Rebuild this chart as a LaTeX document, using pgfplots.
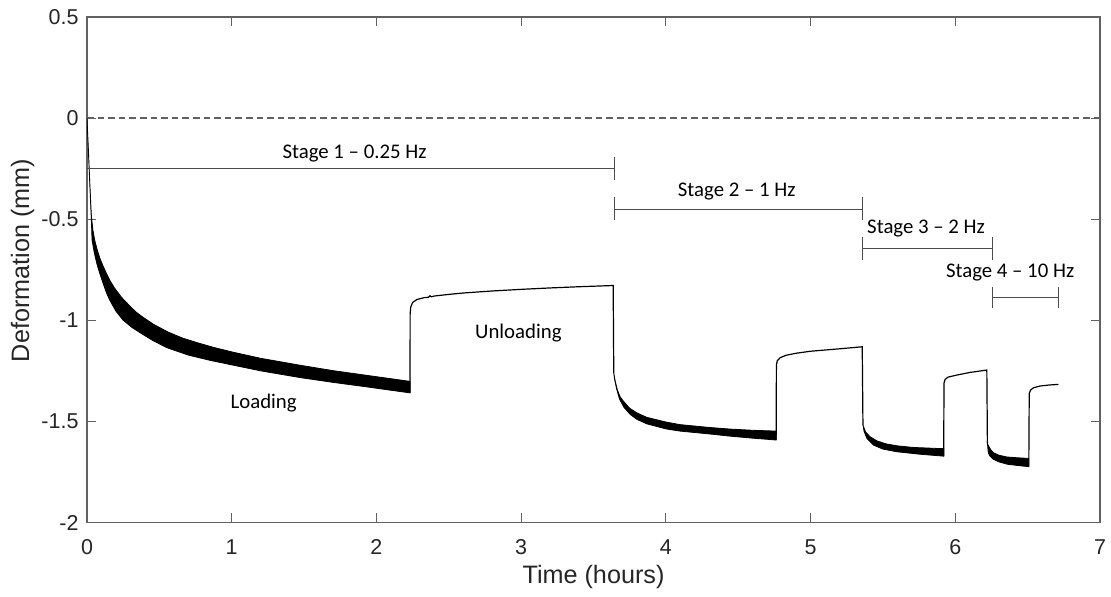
\documentclass[border=0pt]{standalone}
\usepackage{pgfplots}
\pgfplotsset{compat=1.18}
\usepackage{fontspec}
\setmainfont{Liberation Sans}
\newfontfamily\calib{Carlito}
\definecolor{axgray}{gray}{0.38}
\definecolor{txtgray}{gray}{0.15}
\definecolor{brk}{gray}{0.3}
\begin{document}
\begin{tikzpicture}
\path[use as bounding box] (0,0) rectangle (555.5pt,298.5pt);
\begin{axis}[
  at={(43.5pt,37.25pt)}, anchor=south west,
  scale only axis, width=506.5pt, height=252.75pt,
  xmin=0, xmax=7, ymin=-2, ymax=0.5,
  xtick={0,1,2,3,4,5,6,7}, ytick={-2,-1.5,-1,-0.5,0,0.5},
  xticklabels={0,1,2,3,4,5,6,7}, yticklabels={-2,-1.5,-1,-0.5,0,0.5},
  tick align=inside, tick pos=both, major tick length=4.5pt,
  axis line style={axgray, line width=0.55pt},
  every tick/.style={axgray, line width=0.55pt},
  tick label style={font=\fontsize{10.75}{12}\selectfont, text=txtgray},
  xticklabel style={anchor=center, yshift=-12.25pt},
  yticklabel style={anchor=east, xshift=-0.7pt},
  xlabel={Time (hours)}, ylabel={Deformation (mm)},
  label style={font=\fontsize{12.6}{14}\selectfont, text=txtgray},
  xlabel style={at={(axis description cs:0.5,-0.1072)}, anchor=center},
  ylabel style={at={(axis description cs:-0.0635,0.518)}, anchor=center},
]
% zero reference line
\addplot[axgray, line width=0.7pt, dash pattern=on 3.3pt off 2pt] coordinates {(0,0) (7,0)};

% Stage 1 loading band (upper edge, then lower edge back)
\addplot[fill=black, draw=black, line width=0.4pt] coordinates {
(0,0) (0.01,-0.16) (0.02,-0.33) (0.03,-0.48) (0.04,-0.55) (0.053,-0.603) (0.07,-0.65) (0.09,-0.695) (0.11,-0.73) (0.134,-0.768) (0.16,-0.805) (0.19,-0.84) (0.237,-0.885) (0.29,-0.925) (0.34,-0.96) (0.387,-0.985) (0.46,-1.02) (0.56,-1.058) (0.66,-1.088) (0.767,-1.112) (0.88,-1.135) (1.011,-1.158) (1.2,-1.188) (1.47,-1.222) (1.7,-1.249) (1.93,-1.272) (2.232,-1.302)
(2.232,-1.359) (1.93,-1.329) (1.7,-1.307) (1.47,-1.283) (1.2,-1.25) (1.011,-1.222) (0.85,-1.198) (0.7,-1.172) (0.55,-1.135) (0.45,-1.098) (0.375,-1.065) (0.31,-1.035) (0.249,-0.999) (0.2,-0.955) (0.157,-0.90) (0.135,-0.865) (0.11,-0.815) (0.088,-0.768) (0.07,-0.725) (0.05,-0.665) (0.035,-0.603) (0.03,-0.50) (0.02,-0.34) (0.01,-0.17) (0,0)
} -- cycle;
% Unloading 1
\addplot[black, line width=0.6pt] coordinates {
(2.232,-1.359) (2.233,-0.97) (2.237,-0.935) (2.25,-0.912) (2.28,-0.897) (2.33,-0.888) (2.36,-0.886) (2.37,-0.879) (2.38,-0.884) (2.4,-0.880) (2.5,-0.872) (2.6,-0.865) (2.8,-0.855) (3.0,-0.847) (3.2,-0.840) (3.4,-0.834) (3.636,-0.828) (3.64,-1.26)
};
% Stage 2 loading band
\addplot[fill=black, draw=black, line width=0.4pt] coordinates {
(3.64,-1.26) (3.65,-1.30) (3.665,-1.345) (3.685,-1.38) (3.707,-1.40) (3.75,-1.435) (3.8,-1.458) (3.868,-1.48) (4.0,-1.503) (4.098,-1.516) (4.3,-1.530) (4.444,-1.538) (4.6,-1.544) (4.762,-1.548)
(4.762,-1.592) (4.6,-1.583) (4.444,-1.573) (4.3,-1.562) (4.098,-1.548) (4.0,-1.537) (3.868,-1.512) (3.8,-1.49) (3.753,-1.465) (3.71,-1.43) (3.68,-1.39) (3.66,-1.34) (3.645,-1.29) (3.64,-1.26)
} -- cycle;
% Unloading 2
\addplot[black, line width=0.6pt] coordinates {
(4.762,-1.592) (4.764,-1.22) (4.77,-1.20) (4.79,-1.185) (4.83,-1.173) (4.9,-1.163) (5.0,-1.153) (5.2,-1.141) (5.357,-1.131) (5.362,-1.518)
};
% Stage 3 loading band
\addplot[fill=black, draw=black, line width=0.4pt] coordinates {
(5.362,-1.518) (5.38,-1.552) (5.411,-1.576) (5.46,-1.597) (5.526,-1.612) (5.6,-1.621) (5.711,-1.629) (5.92,-1.635)
(5.92,-1.672) (5.75,-1.662) (5.595,-1.650) (5.5,-1.637) (5.434,-1.617) (5.39,-1.585) (5.37,-1.55) (5.362,-1.518)
} -- cycle;
% Unloading 3
\addplot[black, line width=0.6pt] coordinates {
(5.92,-1.672) (5.922,-1.31) (5.93,-1.292) (5.95,-1.281) (6.01,-1.271) (6.1,-1.258) (6.218,-1.246) (6.222,-1.609)
};
% Stage 4 loading band
\addplot[fill=black, draw=black, line width=0.4pt] coordinates {
(6.222,-1.609) (6.229,-1.62) (6.245,-1.64) (6.264,-1.655) (6.3,-1.667) (6.356,-1.676) (6.43,-1.680) (6.508,-1.683)
(6.508,-1.724) (6.43,-1.718) (6.36,-1.712) (6.30,-1.70) (6.26,-1.686) (6.24,-1.672) (6.228,-1.655) (6.222,-1.609)
} -- cycle;
% Unloading 4
\addplot[black, line width=0.6pt] coordinates {
(6.508,-1.724) (6.511,-1.362) (6.52,-1.345) (6.54,-1.334) (6.586,-1.325) (6.65,-1.320) (6.713,-1.317)
};

% Stage brackets
\addplot[brk, line width=0.5pt] coordinates {(0,-0.247) (3.645,-0.247)};
\addplot[brk, line width=0.5pt] coordinates {(3.645,-0.193) (3.645,-0.307)};
\addplot[brk, line width=0.5pt] coordinates {(3.645,-0.45) (5.361,-0.45)};
\addplot[brk, line width=0.5pt] coordinates {(3.645,-0.39) (3.645,-0.504)};
\addplot[brk, line width=0.5pt] coordinates {(5.361,-0.39) (5.361,-0.504)};
\addplot[brk, line width=0.5pt] coordinates {(5.361,-0.645) (6.257,-0.645)};
\addplot[brk, line width=0.5pt] coordinates {(5.361,-0.587) (5.361,-0.702)};
\addplot[brk, line width=0.5pt] coordinates {(6.257,-0.587) (6.257,-0.702)};
\addplot[brk, line width=0.5pt] coordinates {(6.257,-0.889) (6.713,-0.889)};
\addplot[brk, line width=0.5pt] coordinates {(6.257,-0.834) (6.257,-0.941)};
\addplot[brk, line width=0.5pt] coordinates {(6.713,-0.834) (6.713,-0.941)};

\begin{scope}[every node/.style={font=\calib\fontsize{10.4}{12}\selectfont, text=black, inner sep=0pt, anchor=center}]
\node at (axis cs:1.849,-0.173) {Stage 1 – 0.25 Hz};
\node at (axis cs:4.49,-0.364) {Stage 2 – 1 Hz};
\node at (axis cs:5.798,-0.546) {Stage 3 – 2 Hz};
\node at (axis cs:6.379,-0.762) {Stage 4 – 10 Hz};
\node at (axis cs:1.221,-1.41) {Loading};
\node at (axis cs:2.981,-1.062) {Unloading};
\end{scope}
\end{axis}
\end{tikzpicture}
\end{document}
